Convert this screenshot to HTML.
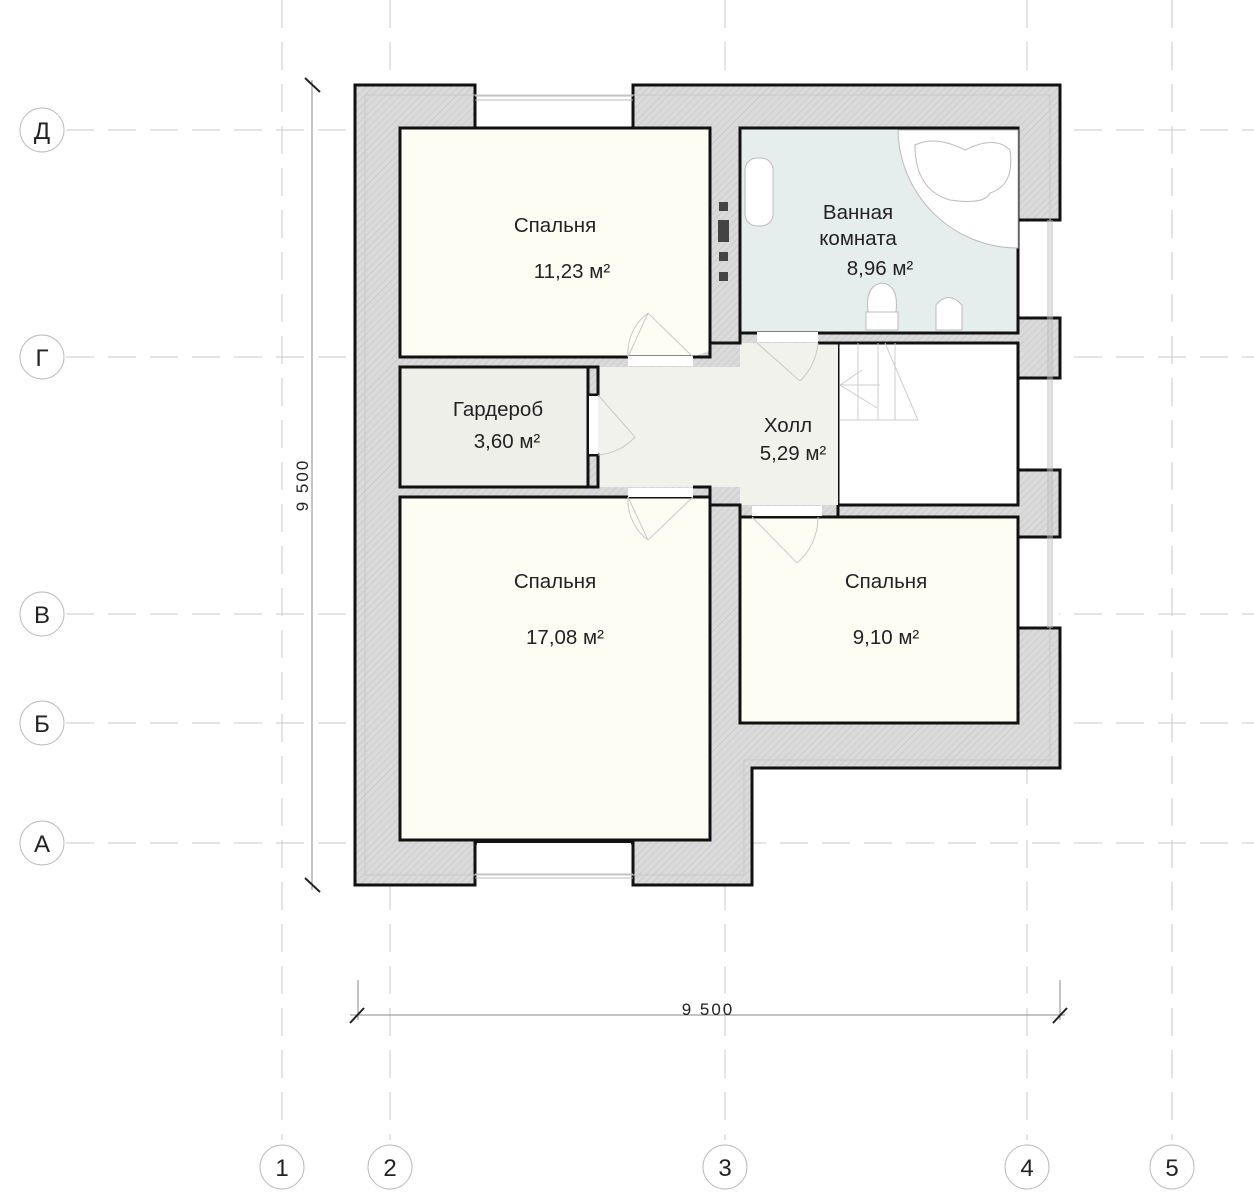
<!DOCTYPE html>
<html><head><meta charset="utf-8"><style>
html,body{margin:0;padding:0;background:#fff;}
svg{display:block;}
text{font-family:"Liberation Sans","DejaVu Sans",sans-serif;fill:#222;}
</style></head><body>
<svg width="1254" height="1200" viewBox="0 0 1254 1200" xmlns="http://www.w3.org/2000/svg">
<defs>
<pattern id="h" width="5" height="5" patternUnits="userSpaceOnUse" patternTransform="rotate(45)">
<rect width="5" height="5" fill="#dadada"/><line x1="0" y1="0" x2="0" y2="5" stroke="#c4c4c4" stroke-width="1.2"/>
</pattern>
</defs>
<g stroke="#c8c8c8" stroke-width="1" stroke-dasharray="28,14" fill="none">
<line x1="282" y1="0" x2="282" y2="1140"/>
<line x1="390" y1="0" x2="390" y2="1140"/>
<line x1="725" y1="0" x2="725" y2="1140"/>
<line x1="1027" y1="0" x2="1027" y2="1140"/>
<line x1="1172" y1="0" x2="1172" y2="1140"/>
<line x1="66" y1="130" x2="1254" y2="130"/>
<line x1="66" y1="357" x2="1254" y2="357"/>
<line x1="66" y1="614" x2="1254" y2="614"/>
<line x1="66" y1="723" x2="1254" y2="723"/>
<line x1="66" y1="843" x2="1254" y2="843"/>
</g>
<g fill="#fff" stroke="#bbb" stroke-width="1">
<circle cx="42" cy="130" r="22"/><circle cx="42" cy="357" r="22"/><circle cx="42" cy="614" r="22"/><circle cx="42" cy="723" r="22"/><circle cx="42" cy="843" r="22"/>
<circle cx="282" cy="1167" r="22"/><circle cx="390" cy="1167" r="22"/><circle cx="725" cy="1167" r="22"/><circle cx="1027" cy="1167" r="22"/><circle cx="1172" cy="1167" r="22"/>
</g>
<g font-size="24" text-anchor="middle">
<text x="42" y="139">Д</text><text x="42" y="366">Г</text><text x="42" y="623">В</text><text x="42" y="732">Б</text><text x="42" y="852">А</text>
<text x="282" y="1176">1</text><text x="390" y="1176">2</text><text x="725" y="1176">3</text><text x="1027" y="1176">4</text><text x="1172" y="1176">5</text>
</g>
<g stroke="#888" stroke-width="1">
<line x1="312" y1="80" x2="312" y2="890"/>
<line x1="305" y1="78" x2="320" y2="92" stroke="#222" stroke-width="2"/>
<line x1="305" y1="878" x2="320" y2="892" stroke="#222" stroke-width="2"/>
<line x1="350" y1="1015" x2="1065" y2="1015"/>
<line x1="358" y1="980" x2="358" y2="1020"/>
<line x1="1060" y1="980" x2="1060" y2="1020"/>
<line x1="350" y1="1023" x2="364" y2="1008" stroke="#222" stroke-width="2"/>
<line x1="1053" y1="1023" x2="1067" y2="1008" stroke="#222" stroke-width="2"/>
</g>
<text x="708" y="1015" font-size="17" text-anchor="middle" letter-spacing="2">9  500</text>
<text transform="translate(308,485) rotate(-90)" font-size="17" text-anchor="middle" letter-spacing="2">9  500</text>
<path d="M355,85 H475 V128 H633 V85 H1060 V220 H1018 V318 H1060 V378 H1018 V470 H1060 V537 H1018 V628 H1060 V768 H752 V885 H633 V843 H475 V885 H355 Z" fill="url(#h)" stroke="#111" stroke-width="3"/>
<g fill="#fff">
<rect x="477" y="87" width="154" height="40"/>
<rect x="477" y="843" width="154" height="40"/>
<rect x="1020" y="222" width="39" height="94"/>
<rect x="1020" y="380" width="39" height="88"/>
<rect x="1020" y="539" width="39" height="87"/>
</g>
<g stroke="#bbb" stroke-width="1" fill="none">
<line x1="475" y1="96" x2="633" y2="96"/><line x1="475" y1="100" x2="633" y2="100"/>
<line x1="475" y1="874" x2="633" y2="874"/><line x1="475" y1="878" x2="633" y2="878"/>
<line x1="1048" y1="220" x2="1048" y2="628"/><line x1="1052" y1="220" x2="1052" y2="628"/>
<path d="M365,95 H1050 V760 H744 V875 H365 Z" stroke="#c8c8c8"/>
</g>
<g stroke="#111" stroke-width="3">
<rect x="400" y="128" width="310" height="229" fill="#fefdf4"/>
<rect x="740" y="128" width="278" height="205" fill="#e6eeed"/>
<rect x="400" y="367" width="188" height="120" fill="#efefe9"/>
<rect x="400" y="497" width="310" height="343" fill="#fefdf4"/>
<rect x="740" y="517" width="278" height="206" fill="#fefdf4"/>
<rect x="838" y="343" width="180" height="162" fill="#fff"/>
</g>
<g fill="#f2f2ed">
<rect x="598" y="367" width="142" height="120"/>
<rect x="740" y="343" width="98" height="162"/>
</g>
<g stroke="#111" stroke-width="3" fill="url(#h)">
<path d="M598,357 H628 M693,357 H710 V343 H740 V333 H755"/>
<path d="M588,367 H598 V395 H588 Z"/>
<path d="M588,455 H598 V487 H588 Z"/>
<path d="M598,497 H628 M693,487 H710 V505 H740 V517 H752"/>
</g>
<g fill="#fff">
<rect x="628" y="356" width="65" height="10"/>
<rect x="628" y="488" width="65" height="9"/>
<rect x="589" y="396" width="9" height="58"/>
<rect x="757" y="332" width="61" height="10"/>
<rect x="752" y="506" width="70" height="10"/>
</g>
<g stroke="#111" stroke-width="3">
<line x1="818" y1="343" x2="838" y2="343"/><line x1="822" y1="517" x2="838" y2="517"/>
<line x1="838" y1="505" x2="838" y2="517"/>
</g>
<g stroke="#c8c8c8" stroke-width="1" fill="none">
<path d="M628,357 L648,313 M628,357 A50,50 0 0 1 648,313 L693,357"/>
<path d="M628,497 L648,540 A50,50 0 0 1 628,497 M648,540 L693,497"/>
<path d="M598,395 L635,437 A55,55 0 0 1 598,455"/>
<path d="M757,343 L800,381 A60,60 0 0 0 818,343"/>
<path d="M752,517 L797,563 A60,60 0 0 0 818,517"/>
</g>
<g stroke="#ccc" stroke-width="1" fill="none">
<path d="M840,420 H918 L885,343 M858,343 V420 M878,343 V420 M895,343 V420 M840,385 H880 M840,385 L862,370 M840,385 L877,408"/>
</g>
<g fill="#fff" stroke="#bbb" stroke-width="1">
<path d="M898,130 A120,120 0 0 0 1018,248 V130 Z"/>
<path d="M915,145 Q935,135 965,150 Q995,135 1010,150 Q1015,185 990,193 Q985,205 950,200 Q915,190 915,145 Z"/>
<rect x="745" y="158" width="28" height="68" rx="12"/>
<path d="M868,312 Q865,285 882,283 Q899,285 896,312 Z"/>
<rect x="866" y="312" width="32" height="18"/>
<path d="M936,330 V305 Q948,290 962,305 V330 Z"/>
</g>
<g fill="#444">
<rect x="719" y="202" width="9" height="9"/><rect x="718" y="220" width="11" height="22"/>
<rect x="719" y="252" width="9" height="9"/><rect x="719" y="272" width="9" height="9"/>
</g>
<g font-size="20.5" text-anchor="middle">
<text x="555" y="232">Спальня</text>
<text x="572" y="278">11,23 м²</text>
<text x="858" y="219">Ванная</text>
<text x="858" y="245">комната</text>
<text x="880" y="275">8,96 м²</text>
<text x="498" y="416">Гардероб</text>
<text x="507" y="448">3,60 м²</text>
<text x="788" y="432">Холл</text>
<text x="793" y="460">5,29 м²</text>
<text x="555" y="588">Спальня</text>
<text x="565" y="644">17,08 м²</text>
<text x="886" y="588">Спальня</text>
<text x="886" y="644">9,10 м²</text>
</g>
</svg>
</body></html>
